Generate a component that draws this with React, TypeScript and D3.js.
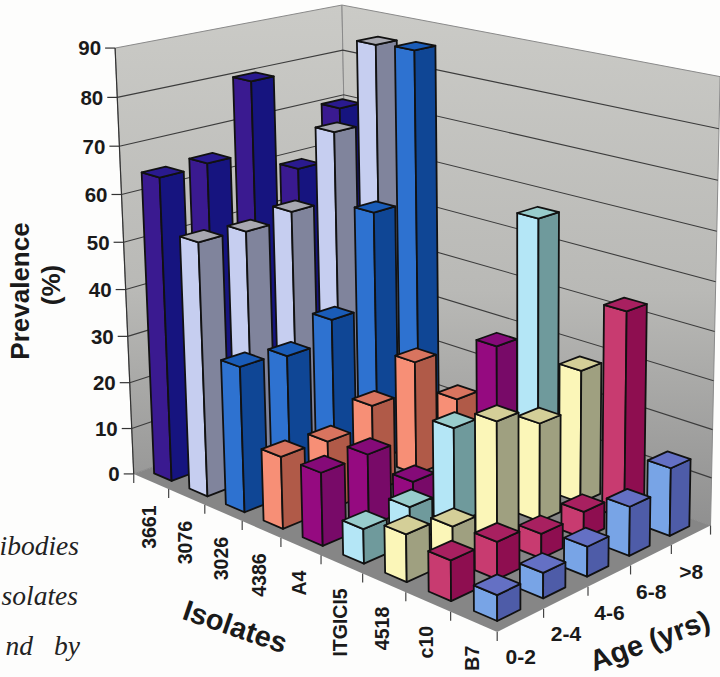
import React from "react";
import * as d3 from "d3";

const isolates = ["3661", "3076", "3026", "4386", "A4", "ITGICI5", "4518", "c10", "B7"];
const ages = ["0-2", "2-4", "4-6", "6-8", ">8"];
const valueTicks = [0, 10, 20, 30, 40, 50, 60, 70, 80, 90];

const v3661 = [64.5, 65, 80, 59, 70];
const v3076 = [53.5, 53, 54.5, 69, 85.5];
const v3026 = [30.5, 29.5, 34, 54, 86];
const v4386 = [15, 14.5, 18.5, 24.5, 13];
const vA4 = [15, 15, 5.5, 10, 27.5];
const vITGICI5 = [7, 7.5, 20, 10, 57];
const v4518 = [9.5, 7, 24.5, 20.5, 28];
const vC10 = [8, 7.5, 5, 5.5, 43];
const vB7 = [5, 5, 6, 10, 14];
const seriesValues = [v3661, v3076, v3026, v4386, vA4, vITGICI5, v4518, vC10, vB7];

const faceFront = ["#3a1a90", "#c6cef0", "#2e72d0", "#f78f76", "#950a80", "#b4e6f6", "#fbf6b8", "#c83b70", "#78a4e6"];
const faceSide = ["#16147f", "#80849c", "#0f4695", "#b05a48", "#780a68", "#6f9a9c", "#9fa080", "#8e0e50", "#4e5ca8"];
const faceTop = ["#2a1a8f", "#a8a8b0", "#1a5cb8", "#d8745f", "#850a78", "#98cccc", "#d4cf98", "#a82060", "#6470c4"];

// Camera calibration: [isolate pos, age pos, value] -> [px, py]
const calibration: number[][] = [
  [0, 0, 0, 133, 473], [9, 0, 0, 498, 632], [9, 5, 0, 711, 527],
  [0, 0, 90, 115, 48], [0, 5, 90, 343, 3], [9, 5, 90, 719, 75],
  [0, 0, 50, 123.3, 244], [0, 0, 20, 129.7, 383],
  [1, 0, 0, 169, 489], [2, 0, 0, 204, 504], [4, 0, 0, 281, 538], [6, 0, 0, 363, 573], [8, 0, 0, 451, 611],
  [9, 1, 0, 544, 610], [9, 2, 0, 589, 587], [9, 3, 0, 629, 565], [9, 4, 0, 671, 545],
  [0, 5, 80, 343, 52], [9, 5, 80, 719, 130], [9, 5, 10, 711.5, 477],
];

function solve(A: number[][], b: number[]) {
  const n = b.length;
  const M = A.map((r, i) => [...r, b[i]]);
  for (let c = 0; c < n; c++) {
    let p = c;
    for (let r = c + 1; r < n; r++) if (Math.abs(M[r][c]) > Math.abs(M[p][c])) p = r;
    [M[c], M[p]] = [M[p], M[c]];
    for (let r = 0; r < n; r++) {
      if (r === c) continue;
      const f = M[r][c] / M[c][c];
      for (let k = c; k <= n; k++) M[r][k] -= f * M[c][k];
    }
  }
  return M.map((r, i) => r[n] / r[i]);
}

function fitCamera(pts: number[][]) {
  const rows: number[][] = [];
  const rhs: number[] = [];
  pts.forEach(([X0, Y0, Z0, x, y]) => {
    const X = X0 / 9, Y = Y0 / 5, Z = Z0 / 90;
    rows.push([X, Y, Z, 1, 0, 0, 0, 0, -x * X, -x * Y, -x * Z]);
    rhs.push(x);
    rows.push([0, 0, 0, 0, X, Y, Z, 1, -y * X, -y * Y, -y * Z]);
    rhs.push(y);
  });
  const n = 11;
  const ATA = d3.range(n).map((i) => d3.range(n).map((j) => d3.sum(rows, (r) => r[i] * r[j])));
  const ATb = d3.range(n).map((i) => d3.sum(rows, (r, k) => r[i] * rhs[k]));
  return solve(ATA, ATb);
}

const cam = fitCamera(calibration);
function project(i: number, a: number, z: number): [number, number] {
  const X = i / 9, Y = a / 5, Z = z / 90;
  const w = cam[8] * X + cam[9] * Y + cam[10] * Z + 1;
  return [
    (cam[0] * X + cam[1] * Y + cam[2] * Z + cam[3]) / w,
    (cam[4] * X + cam[5] * Y + cam[6] * Z + cam[7]) / w,
  ];
}

const isoBand = d3.scaleBand<string>().domain(isolates).range([0, 9]).paddingInner(0.5).paddingOuter(0.25);
const ageBand = d3.scaleBand<string>().domain(ages).range([0, 5]).paddingInner(0.5).paddingOuter(0.25);
const zScale = d3.scaleLinear().domain([0, 90]).range([0, 90]);
const path = d3.line<[number, number]>();
const poly = (pts: [number, number, number][]) => path(pts.map((p) => project(p[0], p[1], p[2]))) + "Z";

const font = "'Liberation Sans', Arial, sans-serif";
const bold = { fontFamily: font, fontWeight: 700, fill: "#1a1a1a" } as const;

export default function App() {
  const bars: React.ReactNode[] = [];
  [...ages].reverse().forEach((age) => {
    const ai = ages.indexOf(age);
    isolates.forEach((iso, si) => {
      const i0 = isoBand(iso)!, i1 = i0 + isoBand.bandwidth();
      const a0 = ageBand(age)!, a1 = a0 + ageBand.bandwidth();
      const z = zScale(seriesValues[si][ai]);
      bars.push(
        <g key={iso + age} stroke="#111" strokeWidth={1.8} strokeLinejoin="round">
          <path d={poly([[i0, a0, 0], [i1, a0, 0], [i1, a0, z], [i0, a0, z]])} fill={faceFront[si]} />
          <path d={poly([[i1, a0, 0], [i1, a1, 0], [i1, a1, z], [i1, a0, z]])} fill={faceSide[si]} />
          <path d={poly([[i0, a0, z], [i1, a0, z], [i1, a1, z], [i0, a1, z]])} fill={faceTop[si]} />
        </g>
      );
    });
  });

  return (
    <svg width={720} height={677} style={{ position: "absolute", left: 0, top: 0, background: "#fdfdfc" }}>
      <defs>
        <linearGradient id="wall" gradientUnits="userSpaceOnUse" x1={0} y1={0} x2={0} y2={530}>
          <stop offset="0" stopColor="#cbcbc7" />
          <stop offset="0.55" stopColor="#b9b9b6" />
          <stop offset="1" stopColor="#8f8f8f" />
        </linearGradient>
      </defs>

      <path d={poly([[0, 0, 0], [9, 0, 0], [9, 5, 0], [0, 5, 0]])} fill="#868686" />
      <path d={poly([[0, 0, 0], [0, 0, 90], [0, 5, 90], [0, 5, 0]])} fill="url(#wall)" stroke="#8a8a8a" />
      <path d={poly([[0, 5, 0], [0, 5, 90], [9, 5, 90], [9, 5, 0]])} fill="url(#wall)" stroke="#8a8a8a" />

      {valueTicks.slice(1, -1).map((t) => (
        <path key={t} fill="none" stroke="#3c3c3c" strokeWidth={1.1}
          d={path([project(0, 0, t), project(0, 5, t), project(9, 5, t)])!} />
      ))}
      <path d={path([project(0, 0, 0), project(0, 0, 90)])!} stroke="#333" strokeWidth={1.2} fill="none" />

      {valueTicks.map((t) => {
        const [x, y] = project(0, 0, t);
        return (
          <g key={t}>
            <line x1={x - 10} x2={x} y1={y} y2={y} stroke="#333" strokeWidth={1.2} />
            <text x={x - 14} y={y} dy="0.36em" textAnchor="end" fontSize={20.5} {...bold}>{t}</text>
          </g>
        );
      })}

      {d3.range(10).map((k) => {
        const [x, y] = project(k, 0, 0);
        return <line key={k} x1={x} x2={x} y1={y} y2={y + 9} stroke="#444" strokeWidth={1.2} />;
      })}
      {d3.range(1, 6).map((k) => {
        const [x, y] = project(9, k, 0);
        return <line key={k} x1={x} x2={x} y1={y} y2={y + 9} stroke="#444" strokeWidth={1.2} />;
      })}

      {bars}

      {isolates.map((iso, k) => {
        const [x, y] = project(k + 0.5, 0, 0);
        return (
          <text key={iso} transform={`translate(${x - 2},${y + 24}) rotate(-90)`} dy="0.36em" textAnchor="end" fontSize={19.5} {...bold}>{iso}</text>
        );
      })}
      {ages.map((age, k) => {
        const [x, y] = project(9, k + 0.5, 0);
        return (
          <text key={age} x={x} y={y + 36} dy="0.36em" textAnchor="middle" fontSize={21} {...bold}>{age}</text>
        );
      })}

      <text transform="translate(29,291) rotate(-90)" textAnchor="middle" fontSize={26} {...bold}>Prevalence</text>
      <text transform="translate(60,285) rotate(-90)" textAnchor="middle" fontSize={26} {...bold}>(%)</text>
      <text transform="translate(232,636) rotate(19)" textAnchor="middle" fontSize={29} {...bold}>Isolates</text>
      <text transform="translate(653,650) rotate(-20)" textAnchor="middle" fontSize={29} {...bold}>Age (yrs)</text>

      <g fontFamily="'Liberation Serif', serif" fontStyle="italic" fontSize={27.5} fill="#222">
        <text x={79} y={555} textAnchor="end">ibodies</text>
        <text x={78} y={605} textAnchor="end">solates</text>
        <text x={33} y={655} textAnchor="end">nd</text>
        <text x={80} y={655} textAnchor="end">by</text>
      </g>
    </svg>
  );
}
